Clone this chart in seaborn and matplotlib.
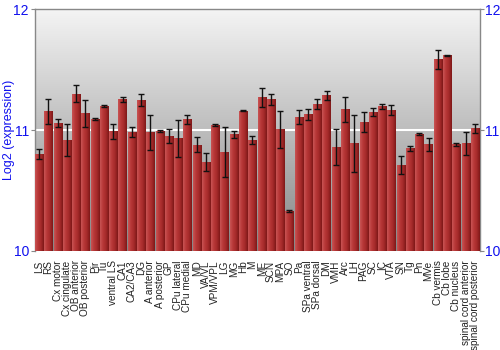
import numpy as np
import pandas as pd
import matplotlib
matplotlib.use("Agg")
import matplotlib.pyplot as plt
import seaborn as sns
from matplotlib.colors import LinearSegmentedColormap

regions = ["LS", "RS", "Cx motor", "Cx cingulate", "OB anterior", "OB posterior", "Pir", "Tu",
           "ventral LS", "CA1", "CA2/CA3", "DG", "A anterior", "A posterior", "GP", "CPu lateral",
           "CPu medial", "MD", "VA/VL", "VPM/VPL", "LG", "MG", "Hb", "M", "ME", "SCN", "MPA", "SO",
           "Pa", "SPa ventral", "SPa dorsal", "DM", "VMH", "Arc", "LH", "PAG", "SC", "IC", "VTA",
           "SN", "Tg", "Pn", "MVe", "Cb vermis", "Cb lobe", "Cb nucleus", "spinal cord anterior",
           "spinal cord posterior"]
expression = [10.80, 11.154, 11.06, 10.92, 11.30, 11.138, 11.09, 11.20,
              10.988, 11.256, 10.983, 11.248, 10.98, 10.99, 10.95, 10.93,
              11.088, 10.877, 10.736, 11.04, 10.817, 10.966, 11.16, 10.916, 11.27, 11.256, 11.005, 10.328,
              11.11, 11.13, 11.217, 11.287, 10.861, 11.173, 10.889, 11.068, 11.151, 11.195, 11.165,
              10.709, 10.847, 10.969, 10.883, 11.585, 11.621, 10.883, 10.889,
              11.013]
error = [0.04, 0.10, 0.033, 0.134, 0.07, 0.11, 0.01, 0.005,
         0.064, 0.022, 0.043, 0.047, 0.146, 0.008, 0.055, 0.156,
         0.035, 0.062, 0.075, 0.008, 0.21, 0.03, 0.005, 0.035, 0.077, 0.044, 0.153, 0.01,
         0.06, 0.044, 0.043, 0.04, 0.148, 0.102, 0.24, 0.083, 0.033, 0.022, 0.044,
         0.076, 0.017, 0.006, 0.054, 0.082, 0.004, 0.012, 0.098,
         0.04]
y_ticks = [10, 11, 12]

df = pd.DataFrame({"region": regions, "expression": expression, "error": error})

sns.set_theme(style="white")
plt.rcParams["font.family"] = ["Liberation Sans", "DejaVu Sans"]

fig = plt.figure(figsize=(5, 3.5), dpi=100)
ax = fig.add_axes([0.069, 0.2837, 0.890, 0.6893])

sns.barplot(data=df, x="region", y="expression", color="#b03030", width=0.88,
            errorbar=None, ax=ax, zorder=3, linewidth=0)

ymin, ymax = 10, 12
n = len(regions)

# background gradient
bg = LinearSegmentedColormap.from_list("bg", ["#868686", "#f4f4f4"])
grad = np.linspace(0, 1, 256).reshape(-1, 1)
ax.imshow(grad, cmap=bg, aspect="auto", origin="lower",
          extent=(-0.5, n - 0.5, ymin, ymax), zorder=0)
ax.axhline(11, color="white", lw=1.5, zorder=1)

# bar gradient (drawn on the seaborn bars, clipped to the visible range)
barcm = LinearSegmentedColormap.from_list("bar", ["#c85454", "#b83838", "#a52a2a", "#7e1818"])
hgrad = np.linspace(0, 1, 64).reshape(1, -1)
for p in list(ax.patches):
    x0, w = p.get_x(), p.get_width()
    top = p.get_y() + p.get_height()
    ax.imshow(hgrad, cmap=barcm, aspect="auto", extent=(x0, x0 + w, ymin, top), zorder=3)

ax.set_xlim(-0.5, n - 0.5)
ax.set_ylim(ymin, ymax)

ax.errorbar(np.arange(n), df["expression"], yerr=df["error"], fmt="none",
            ecolor="#111111", elinewidth=1.0, capsize=2, capthick=1.0, zorder=4)

ax.set_xlabel("")
ax.set_ylabel("Log2 (expression)", color="#1010ee", fontsize=9)
ax.yaxis.set_label_coords(-0.044, 0.5)
ax.set_yticks(y_ticks)
ax.set_yticklabels([str(t) for t in y_ticks])
ax.tick_params(axis="y", which="both", labelcolor="#1010ee", labelsize=10, left=True, right=True,
               labelleft=True, labelright=True, length=3, width=0.8, color="#888888", pad=1)
ax.tick_params(axis="x", labelsize=7.2, bottom=False, pad=1, labelcolor="#222222")
plt.setp(ax.get_xticklabels(), rotation=90)

for side in ["left", "top", "right"]:
    ax.spines[side].set_color("#888888")
    ax.spines[side].set_linewidth(1)
ax.spines["bottom"].set_visible(False)

fig.savefig("out.png", dpi=100)
